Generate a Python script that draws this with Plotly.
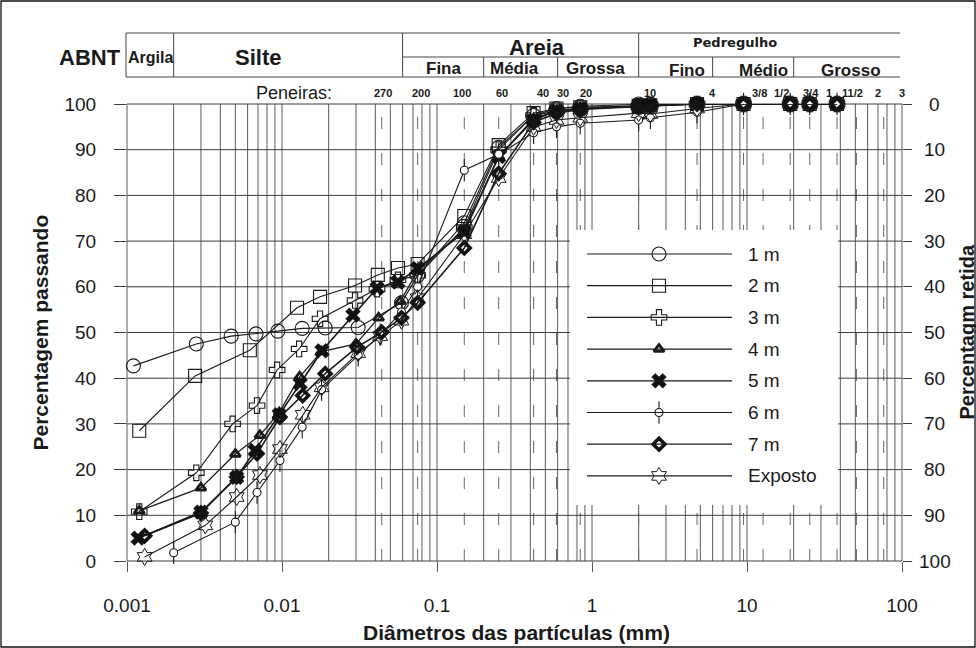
import numpy as np
import plotly.graph_objects as go

# ---------------------------------------------------------------
# Grain-size distribution (percent passing vs particle diameter)
# ---------------------------------------------------------------
d_1m = [0.0011, 0.0028, 0.0047, 0.0068, 0.0094, 0.0135, 0.019, 0.031, 0.059, 0.075,
        0.15, 0.25, 0.42, 0.59, 0.84, 2.0, 2.38, 4.76, 9.5, 19.0, 25.4, 38.1]
p_1m = [42.7, 47.5, 49.2, 49.7, 50.3, 50.9, 51.0, 51.1, 56.5, 62.5,
        74.0, 90.5, 97.5, 99.0, 99.5, 100, 100, 100, 100, 100, 100, 100]

d_2m = [0.0012, 0.00275, 0.0062, 0.0125, 0.0176, 0.0296, 0.0415, 0.056, 0.075,
        0.15, 0.25, 0.42, 0.59, 0.84, 2.0, 2.38, 4.76, 9.5, 19.0, 25.4, 38.1]
p_2m = [28.5, 40.5, 46.1, 55.4, 57.8, 60.3, 62.6, 64.1, 65.0,
        75.5, 91.0, 98.0, 99.0, 99.3, 99.6, 99.7, 100, 100, 100, 100, 100]

d_3m = [0.0012, 0.0028, 0.0048, 0.0069, 0.0093, 0.0129, 0.0176, 0.0296, 0.041, 0.056, 0.075,
        0.15, 0.25, 0.42, 0.59, 0.84, 2.0, 2.38, 4.76, 9.5, 19.0, 25.4, 38.1]
p_3m = [10.8, 19.3, 30.0, 34.0, 41.8, 46.4, 53.0, 57.0, 59.5, 61.5, 62.5,
        73.0, 90.0, 97.5, 98.5, 99.0, 99.5, 99.7, 100, 100, 100, 100, 100]

d_4m = [0.0012, 0.003, 0.005, 0.0072, 0.0096, 0.013, 0.018, 0.03, 0.042, 0.058, 0.075,
        0.15, 0.25, 0.42, 0.59, 0.84, 2.0, 2.38, 4.76, 9.5, 19.0, 25.4, 38.1]
p_4m = [11.0, 16.0, 23.4, 27.5, 32.5, 40.3, 45.8, 47.5, 53.2, 56.8, 63.5,
        72.5, 88.5, 96.8, 98.5, 99.0, 99.5, 99.7, 100, 100, 100, 100, 100]

d_5m = [0.00118, 0.003, 0.0051, 0.0067, 0.0096, 0.0131, 0.0181, 0.0287, 0.041, 0.056, 0.075,
        0.15, 0.25, 0.42, 0.59, 0.84, 2.0, 2.38, 4.76, 9.5, 19.0, 25.4, 38.1]
p_5m = [5.0, 10.7, 18.3, 24.2, 32.0, 38.8, 46.0, 53.8, 59.7, 61.0, 64.0,
        72.0, 88.5, 96.5, 98.5, 99.0, 99.5, 99.7, 100, 100, 100, 100, 100]

d_6m = [0.002, 0.005, 0.0069, 0.0097, 0.0135, 0.018, 0.031, 0.043, 0.059, 0.075,
        0.15, 0.25, 0.42, 0.59, 0.84, 2.0, 2.38, 4.76, 9.5, 19.0, 25.4, 38.1]
p_6m = [1.8, 8.5, 15.0, 22.0, 29.3, 37.5, 45.0, 49.5, 54.5, 60.0,
        85.5, 89.0, 93.7, 95.0, 95.8, 96.5, 97.0, 98.2, 100, 100, 100, 100]

d_7m = [0.0013, 0.003, 0.0051, 0.0069, 0.0097, 0.0136, 0.019, 0.0305, 0.044, 0.059, 0.075,
        0.15, 0.25, 0.42, 0.59, 0.84, 2.0, 2.38, 4.76, 9.5, 19.0, 25.4, 38.1]
p_7m = [5.5, 10.5, 18.4, 23.5, 31.5, 36.2, 41.0, 46.8, 50.1, 53.2, 56.5,
        68.5, 84.8, 96.0, 98.0, 98.8, 99.5, 99.6, 100, 100, 100, 100, 100]

d_exp = [0.0013, 0.0032, 0.0051, 0.0072, 0.0097, 0.0136, 0.018, 0.031, 0.043, 0.059, 0.075,
         0.15, 0.25, 0.42, 0.59, 0.84, 2.0, 2.38, 4.76, 9.5, 19.0, 25.4, 38.1]
p_exp = [0.9, 7.8, 14.0, 18.8, 24.5, 32.0, 38.0, 45.5, 49.2, 52.6, 57.5,
         71.5, 83.8, 95.0, 96.5, 97.0, 98.0, 97.8, 99.0, 100, 100, 100, 100]

# Sieve openings (mm) with their designations
sieve_mm = [0.044, 0.075, 0.15, 0.25, 0.42, 0.59, 0.84, 2.0, 4.76, 9.5, 12.7, 19.0, 25.4, 38.1, 50.8, 76.2]
sieve_labels = ["270", "200", "100", "60", "40", "30", "20", "10", "4", "3/8", "1/2", "3/4", "1", "11/2", "2", "3"]
# where each designation is printed (mm)
sieve_label_mm = [0.0446, 0.079, 0.1446, 0.262, 0.481, 0.648, 0.913, 2.36, 6.0, 12.1, 16.6, 25.9, 33.8, 48.1, 69.7, 99.8]

# ABNT classification boundaries (mm)
abnt_bounds = [0.002, 0.06, 0.2, 0.6, 2.0, 6.0, 20.0]

# Axes
x_ticks = [0.001, 0.01, 0.1, 1, 10, 100]
x_tick_text = ["0.001", "0.01", "0.1", "1", "10", "100"]
y_ticks = list(range(0, 101, 10))

# ---------------------------------------------------------------
W, H = 976, 648
ML, MR, MT, MB = 127, 74, 104, 87
PW, PH = W - ML - MR, H - MT - MB
LOG0, LOG1 = -3, 2

FONT = "Liberation Sans, Arial, sans-serif"
INK = "#1a1a1a"
GRID = "#5a5a5a"


def xp(d):
    """diameter (mm) -> paper x"""
    return (np.log10(d) - LOG0) / (LOG1 - LOG0)


def px_x(px):
    return (px - ML) / PW


def px_y(py):
    return (H - MB - py) / PH


series = [
    ("1 m", d_1m, p_1m, dict(symbol="circle-open", size=14, color=INK, line=dict(width=1.1, color=INK)), 1.1),
    ("2 m", d_2m, p_2m, dict(symbol="square-open", size=13, color=INK, line=dict(width=1.1, color=INK)), 1.1),
    ("3 m", d_3m, p_3m, dict(symbol="cross-open", size=13, color=INK, line=dict(width=1.1, color=INK)), 1.1),
    ("4 m", d_4m, p_4m, dict(symbol="triangle-up-open", size=9, color=INK, line=dict(width=2.8, color=INK)), 1.3),
    ("5 m", d_5m, p_5m, dict(symbol="x", size=13, color="#111111", line=dict(width=0.5, color="#111111")), 1.6),
    ("6 m", d_6m, p_6m, dict(symbol="circle", size=8, color="white", line=dict(width=1.1, color=INK)), 1.1),
    ("7 m", d_7m, p_7m, dict(symbol="diamond-open", size=9, color="#111111", line=dict(width=3.6, color="#111111")), 1.6),
    ("Exposto", d_exp, p_exp, dict(symbol="hexagram-open", size=13, color=INK, line=dict(width=1.0, color=INK)), 1.1),
]

TICK_MARK = dict(symbol="line-ns-open", size=16, color=INK, line=dict(width=1.1, color=INK))

fig = go.Figure()

for name, d, p, mk, lw in series:
    if name == "6 m":
        fig.add_trace(go.Scatter(
            x=d, y=p, mode="markers", showlegend=False, cliponaxis=False, hoverinfo="skip",
            marker=TICK_MARK,
        ))
    fig.add_trace(go.Scatter(
        x=d, y=p, name=name, mode="lines+markers", showlegend=False, cliponaxis=False,
        line=dict(color=INK, width=lw), marker=mk,
    ))

# right-hand axis (percent retained)
fig.add_trace(go.Scatter(x=[None], y=[None], yaxis="y2", showlegend=False, hoverinfo="skip"))

shapes = []

# log grid (solid)
for k in range(LOG0, LOG1):
    for m in range(1, 10):
        v = m * 10.0 ** k
        shapes.append(dict(type="line", xref="paper", yref="paper", x0=xp(v), x1=xp(v), y0=0, y1=1,
                           line=dict(color=GRID, width=1), layer="below"))
shapes.append(dict(type="line", xref="paper", yref="paper", x0=1, x1=1, y0=0, y1=1,
                   line=dict(color=GRID, width=1), layer="below"))

# sieve positions (dashed)
for s in sieve_mm:
    shapes.append(dict(type="line", xref="paper", yref="paper", x0=xp(s), x1=xp(s), y0=0, y1=1,
                       line=dict(color="#666666", width=1, dash="12px,24px"), layer="below"))

# horizontal grid
for yv in y_ticks:
    shapes.append(dict(type="line", xref="paper", yref="paper", x0=0, x1=1, y0=yv / 100, y1=yv / 100,
                       line=dict(color="#3c3c3c", width=1), layer="below"))

# legend panel
LX0, LX1, LY0, LY1 = 570, 838, 230, 505
shapes.append(dict(type="rect", xref="paper", yref="paper", x0=px_x(LX0), x1=px_x(LX1),
                   y0=px_y(LY1), y1=px_y(LY0), fillcolor="white", line=dict(width=0), layer="below"))

# ABNT header table
HT, HM, HB = 33, 57, 77
HL, HR = 126, 900
hline = dict(color="#444444", width=1)
for yy, x0 in [(HT, HL), (HB, HL), (HM, ML + xp(abnt_bounds[1]) * PW)]:
    shapes.append(dict(type="line", xref="paper", yref="paper", x0=px_x(x0), x1=px_x(HR),
                       y0=px_y(yy), y1=px_y(yy), line=hline))
shapes.append(dict(type="line", xref="paper", yref="paper", x0=px_x(HL), x1=px_x(HL),
                   y0=px_y(HT), y1=px_y(HB), line=hline))
for b in abnt_bounds:
    top = HT if b in (0.002, 0.06, 2.0) else HM
    shapes.append(dict(type="line", xref="paper", yref="paper", x0=xp(b), x1=xp(b),
                       y0=px_y(top), y1=px_y(HB), line=hline))

# outer frame
shapes.append(dict(type="rect", xref="paper", yref="paper", x0=px_x(1), x1=px_x(975),
                   y0=px_y(647), y1=px_y(1), line=dict(color="#111111", width=1.3)))

# legend entries
row_y = [254 + i * 31.7 for i in range(len(series))]
for ry in row_y:
    shapes.append(dict(type="line", xref="paper", yref="paper", x0=px_x(587), x1=px_x(732),
                       y0=px_y(ry), y1=px_y(ry), line=dict(color=INK, width=1.2)))

for (name, d, p, mk, lw), ry in zip(series, row_y):
    if name == "6 m":
        fig.add_trace(go.Scatter(
            x=[px_x(659)], y=[px_y(ry)], xaxis="x2", yaxis="y3", mode="markers",
            showlegend=False, hoverinfo="skip", cliponaxis=False, marker=TICK_MARK,
        ))
    fig.add_trace(go.Scatter(
        x=[px_x(659)], y=[px_y(ry)], xaxis="x2", yaxis="y3", mode="markers",
        showlegend=False, hoverinfo="skip", cliponaxis=False, marker=mk,
    ))

annotations = []


def text(x, y, s, size, bold=False, family=FONT, xanchor="center", angle=0):
    annotations.append(dict(
        x=x, y=y, xref="paper", yref="paper", text=f"<b>{s}</b>" if bold else s,
        showarrow=False, xanchor=xanchor, yanchor="middle", textangle=angle,
        font=dict(size=size, family=family, color=INK),
    ))


# header texts
text(px_x(90), px_y(57), "ABNT", 22, True)
text(px_x(150), px_y(58), "Argila", 16, True)
text(px_x(258), px_y(57), "Silte", 22, True)
text(px_x(537), px_y(47), "Areia", 22, True)
text(px_x(443), px_y(68), "Fina", 17, True)
text(px_x(514), px_y(68), "Média", 17, True)
text(px_x(595), px_y(68), "Grossa", 17, True)
text(px_x(735), px_y(42), "Pedregulho", 13, True, family="DejaVu Sans, sans-serif")
text(px_x(687), px_y(70), "Fino", 17, True)
text(px_x(763), px_y(70), "Médio", 17, True)
text(px_x(851), px_y(70), "Grosso", 17, True)

# sieve designations
text(px_x(294), px_y(93), "Peneiras:", 18)
for lab, pos in zip(sieve_labels, sieve_label_mm):
    text(xp(pos), px_y(93), lab, 11, True)

# right-hand axis labels (percent retained = 100 - passing)
for v in y_ticks:
    text(px_x(935), v / 100, str(100 - v), 19)

# axis titles
text(px_x(516), px_y(632), "Diâmetros das partículas (mm)", 21, True)
text(px_x(40), 0.5, "Percentagem passando", 21, True, angle=-90)
text(px_x(966), 0.5, "Percentagm retida", 20, True, angle=-90)

# legend labels
for (name, *_), ry in zip(series, row_y):
    text(px_x(746), px_y(ry), name, 19, xanchor="left")

fig.update_layout(
    width=W, height=H,
    margin=dict(l=ML, r=MR, t=MT, b=MB),
    paper_bgcolor="white", plot_bgcolor="white",
    font=dict(family=FONT, size=19, color=INK),
    showlegend=False,
    shapes=shapes,
    annotations=annotations,
    xaxis=dict(type="log", range=[LOG0, LOG1], tickvals=x_ticks, ticktext=x_tick_text,
               showgrid=False, zeroline=False, showline=False,
               ticks="outside", ticklen=10, tickcolor=GRID, tickwidth=1,
               ticklabelstandoff=17, tickfont=dict(size=19)),
    yaxis=dict(range=[0, 100], tickvals=y_ticks, showgrid=False, zeroline=False, showline=False,
               ticks="outside", ticklen=12, tickcolor="#3c3c3c", tickwidth=1,
               ticklabelstandoff=14, tickfont=dict(size=19)),
    yaxis2=dict(range=[100, 0], overlaying="y", side="right", tickvals=y_ticks,
                showticklabels=False, showgrid=False, zeroline=False, showline=False,
                ticks="outside", ticklen=9, tickcolor="#3c3c3c", tickwidth=1),
    xaxis2=dict(range=[0, 1], overlaying="x", visible=False, fixedrange=True),
    yaxis3=dict(range=[0, 1], overlaying="y", visible=False, fixedrange=True),
)

fig.write_html("out.html")
